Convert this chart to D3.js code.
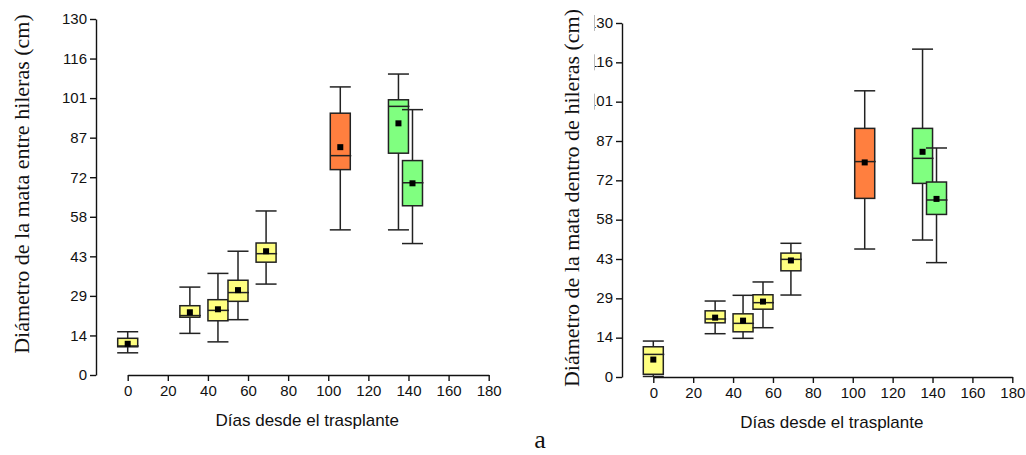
<!DOCTYPE html>
<html>
<head>
<meta charset="utf-8">
<script src="https://cdn.jsdelivr.net/npm/d3@7"></script>
<style>
  body { margin: 0; background: #fff; }
  svg { display: block; }
</style>
</head>
<body>
<div id="chart"></div>
<script>
// días desde el trasplante de cada caja
const days = [0, 31, 45, 55, 69, 106, 135, 142];
const boxColors = ["#ffff80", "#ffff80", "#ffff80", "#ffff80", "#ffff80", "#ff7f3f", "#80ff80", "#80ff80"];

// entre hileras
const entreLo   = [8.1, 15.2, 12.1, 20.2, 33.2, 53.0, 53.0, 48.0];
const entreQ1   = [10.3, 21.1, 19.8, 26.9, 41.2, 75.0, 81.0, 61.8];
const entreMed  = [10.6, 21.7, 23.6, 30.1, 44.3, 80.1, 98.1, 70.2];
const entreQ3   = [13.4, 25.3, 27.5, 34.6, 48.2, 95.6, 100.5, 78.3];
const entreHi   = [15.8, 32.1, 37.1, 45.2, 59.9, 105.2, 109.9, 96.9];
const entreMean = [11.4, 22.9, 24.0, 31.0, 45.2, 83.2, 91.9, 70.0];

// dentro de hileras
const dentroLo   = [0.2, 15.9, 14.2, 18.1, 30.1, 47.0, 50.3, 42.0];
const dentroQ1   = [1.0, 19.9, 16.6, 24.9, 39.0, 65.6, 71.1, 59.7];
const dentroMed  = [8.3, 21.3, 19.7, 27.3, 43.2, 79.1, 80.3, 65.0];
const dentroQ3   = [11.1, 24.3, 23.2, 30.2, 45.5, 91.3, 91.3, 71.6];
const dentroHi   = [13.2, 27.9, 30.0, 34.9, 49.1, 105.1, 120.4, 84.1];
const dentroMean = [6.4, 21.8, 20.7, 27.7, 42.8, 78.8, 82.7, 65.4];

const yTickLabels = ["0", "14", "29", "43", "58", "72", "87", "101", "116", "130"];
const xTicks = [0, 20, 40, 60, 80, 100, 120, 140, 160, 180];

const svg = d3.select("#chart").append("svg")
  .attr("width", 1026)
  .attr("height", 455);

function makeRows(lo, q1, med, q3, hi, mean) {
  return days.map((d, i) => ({
    day: d, lo: lo[i], q1: q1[i], med: med[i], q3: q3[i], hi: hi[i], mean: mean[i], color: boxColors[i]
  }));
}

function drawPanel(p) {
  const g = svg.append("g");
  const x = d3.scaleLinear().domain([0, 180]).range([p.x0, p.x1]);
  const y = d3.scaleLinear().domain([0, 130]).range([p.y0, p.y1]);
  const tickVals = yTickLabels.map((t, i) => i * 130 / 9);

  // eje y
  const yAxis = d3.axisLeft(y)
    .tickValues(tickVals)
    .tickFormat((d, i) => yTickLabels[i])
    .tickSize(6).tickSizeOuter(0).tickPadding(3);
  const ya = g.append("g").attr("transform", `translate(${p.yAxisX},0)`).call(yAxis);
  ya.selectAll("text").style("font-family", "'Liberation Sans', Arial, sans-serif").style("font-size", "15px").attr("fill", "#111");
  ya.selectAll("line, path").attr("stroke", "#111").attr("stroke-width", 1.4);

  // en el panel derecho las etiquetas largas salen cortadas
  if (p.clipLabels) {
    const cid = "clipLab";
    svg.append("clipPath").attr("id", cid).append("rect")
      .attr("x", p.clipLabels).attr("y", 0).attr("width", 100).attr("height", 455);
    ya.selectAll(".tick text").remove();
    const lab = g.append("g").attr("clip-path", `url(#${cid})`);
    lab.selectAll("text").data(yTickLabels).join("text")
      .attr("x", p.yAxisX - 9)
      .attr("y", (d, i) => y(tickVals[i]))
      .attr("dy", "0.32em")
      .attr("text-anchor", "end")
      .style("font-family", "'Liberation Sans', Arial, sans-serif")
      .style("font-size", "15px")
      .attr("fill", "#111")
      .text(d => d);
    g.selectAll("line.cut").data(tickVals.filter(v => v > 100)).join("line")
      .attr("class", "cut")
      .attr("x1", p.clipLabels + 0.5).attr("x2", p.clipLabels + 0.5)
      .attr("y1", v => y(v) - 8).attr("y2", v => y(v) + 8)
      .attr("stroke", "#bbb").attr("stroke-width", 1);
  }

  // eje x
  const xAxis = d3.axisBottom(x).tickValues(xTicks).tickSize(6).tickSizeOuter(0).tickPadding(4);
  const xa = g.append("g").attr("transform", `translate(0,${p.xAxisY})`).call(xAxis);
  xa.selectAll("text").style("font-family", "'Liberation Sans', Arial, sans-serif").style("font-size", "15px").attr("fill", "#111");
  xa.selectAll("line, path").attr("stroke", "#111").attr("stroke-width", 1.4);

  g.append("text")
    .attr("x", (p.x0 + p.x1) / 2 - 1)
    .attr("y", p.xAxisY + 51)
    .attr("text-anchor", "middle")
    .style("font-family", "'Liberation Sans', Arial, sans-serif")
    .style("font-size", "17px")
    .attr("fill", "#111")
    .text("Días desde el trasplante");

  g.append("text")
    .attr("transform", `translate(${p.titleX},${p.titleY}) rotate(-90)`)
    .attr("text-anchor", "middle")
    .style("font-family", "'Liberation Serif', 'Times New Roman', serif")
    .style("font-size", "22px")
    .attr("fill", "#111")
    .text(p.title);

  // cajas
  const bw = 20, cw = 21;
  const boxes = g.selectAll("g.box").data(p.rows).join("g").attr("class", "box");
  boxes.append("line")
    .attr("x1", d => x(d.day)).attr("x2", d => x(d.day))
    .attr("y1", d => y(d.hi)).attr("y2", d => y(d.q3))
    .attr("stroke", "#222").attr("stroke-width", 1.5);
  boxes.append("line")
    .attr("x1", d => x(d.day)).attr("x2", d => x(d.day))
    .attr("y1", d => y(d.q1)).attr("y2", d => y(d.lo))
    .attr("stroke", "#222").attr("stroke-width", 1.5);
  boxes.append("line")
    .attr("x1", d => x(d.day) - cw / 2).attr("x2", d => x(d.day) + cw / 2)
    .attr("y1", d => y(d.hi)).attr("y2", d => y(d.hi))
    .attr("stroke", "#222").attr("stroke-width", 1.5);
  boxes.append("line")
    .attr("x1", d => x(d.day) - cw / 2).attr("x2", d => x(d.day) + cw / 2)
    .attr("y1", d => y(d.lo)).attr("y2", d => y(d.lo))
    .attr("stroke", "#222").attr("stroke-width", 1.5);
  boxes.append("rect")
    .attr("x", d => x(d.day) - bw / 2)
    .attr("y", d => y(d.q3))
    .attr("width", bw)
    .attr("height", d => y(d.q1) - y(d.q3))
    .attr("fill", d => d.color)
    .attr("stroke", "#222").attr("stroke-width", 1.5);
  boxes.append("line")
    .attr("x1", d => x(d.day) - bw / 2).attr("x2", d => x(d.day) + bw / 2 + 1)
    .attr("y1", d => y(d.med)).attr("y2", d => y(d.med))
    .attr("stroke", "#222").attr("stroke-width", 1.5);
  boxes.append("rect")
    .attr("x", d => x(d.day) - 3)
    .attr("y", d => y(d.mean) - 3)
    .attr("width", 6).attr("height", 6)
    .attr("fill", "#000");
}

drawPanel({
  x0: 127.7, x1: 488.7, y0: 375, y1: 19, yAxisX: 96, xAxisY: 375,
  titleX: 29, titleY: 184,
  title: "Diámetro de la mata entre hileras (cm)",
  rows: makeRows(entreLo, entreQ1, entreMed, entreQ3, entreHi, entreMean)
});

drawPanel({
  x0: 653.3, x1: 1012.3, y0: 377, y1: 23, yAxisX: 622, xAxisY: 377,
  titleX: 579, titleY: 198, clipLabels: 594,
  title: "Diámetro de la mata dentro de hileras (cm)",
  rows: makeRows(dentroLo, dentroQ1, dentroMed, dentroQ3, dentroHi, dentroMean)
});

svg.append("text")
  .attr("x", 540).attr("y", 448)
  .attr("text-anchor", "middle")
  .style("font-family", "'Liberation Serif', 'Times New Roman', serif")
  .style("font-size", "26px")
  .attr("fill", "#111")
  .text("a");
</script>
</body>
</html>
